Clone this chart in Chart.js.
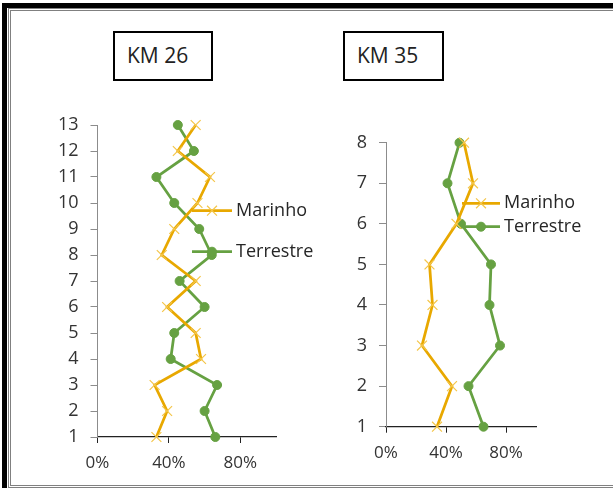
<!DOCTYPE html>
<html>
<head>
<meta charset="utf-8">
<script src="https://cdn.jsdelivr.net/npm/chart.js@4.4.0/dist/chart.umd.min.js"></script>
<style>
  html, body { margin: 0; padding: 0; background: #fff; overflow: hidden; }
  body { width: 613px; height: 488px; position: relative; font-family: "Open Sans", sans-serif; }
  .outer { position: absolute; left: 2px; top: 3px; width: 700px; height: 520px;
           border-left: 5px solid #000; border-top: 5px solid #000; box-sizing: border-box; }
  .inner { position: absolute; left: 8px; top: 8px; width: 700px; height: 480px;
           border: 3px double #808080; box-sizing: border-box; }
  .tag { position: absolute; height: 50px; border: 2px solid #000; box-sizing: border-box;
         font-size: 21px; color: #222; line-height: 44px; padding-left: 12px; background: #fff; }
  canvas { position: absolute; }
</style>
</head>
<body>
<div class="outer"></div>
<div class="inner"></div>
<div class="tag" style="left:113px; top:31px; width:100px;">KM 26</div>
<div class="tag" style="left:343px; top:31px; width:101px;">KM 35</div>
<div style="position:absolute; left:20px; top:100px; width:310px; height:385px;"><canvas id="km26"></canvas></div>
<div style="position:absolute; left:330px; top:100px; width:270px; height:385px;"><canvas id="km35"></canvas></div>

<script>
// Depth levels (vertical axis) and share of each source at each level
const depthsKm26 = [1, 2, 3, 4, 5, 6, 7, 8, 9, 10, 11, 12, 13];
const marinhoKm26 = [0.33, 0.39, 0.32, 0.58, 0.55, 0.39, 0.55, 0.36, 0.43, 0.56, 0.63, 0.45, 0.55];
const terrestreKm26 = [0.66, 0.60, 0.67, 0.41, 0.43, 0.60, 0.46, 0.64, 0.57, 0.43, 0.33, 0.54, 0.45];

const depthsKm35 = [1, 2, 3, 4, 5, 6, 7, 8];
const marinhoKm35 = [0.34, 0.44, 0.24, 0.31, 0.29, 0.47, 0.58, 0.52];
const terrestreKm35 = [0.65, 0.55, 0.76, 0.69, 0.70, 0.50, 0.41, 0.49];

const seriesNames = ['Marinho', 'Terrestre'];
const xTickValues = [0, 0.4, 0.8];

const ORANGE = '#E8A800';
const ORANGE_MARK = '#F4C64A';
const GREEN = '#66A142';
const FONT = '"Open Sans", sans-serif';

// Legend drawn inside the plot, next to the lines
const inlineLegend = {
  id: 'inlineLegend',
  afterDatasetsDraw(chart, args, opts) {
    const ctx = chart.ctx;
    ctx.save();
    chart.data.datasets.forEach((ds, i) => {
      const y = opts.top + i * opts.rowGap;
      const x0 = opts.left;
      const x1 = x0 + opts.lineLen;
      ctx.strokeStyle = ds.borderColor;
      ctx.lineWidth = ds.borderWidth;
      ctx.beginPath();
      ctx.moveTo(x0, y);
      ctx.lineTo(x1, y);
      ctx.stroke();
      ctx.lineWidth = ds.pointBorderWidth;
      ctx.strokeStyle = ds.pointBorderColor;
      ctx.fillStyle = ds.pointBackgroundColor;
      Chart.helpers.drawPoint(ctx, {
        pointStyle: ds.pointStyle, radius: ds.pointRadius, rotation: 0, borderWidth: ds.pointBorderWidth
      }, (x0 + x1) / 2, y);
      ctx.fillStyle = '#262626';
      ctx.font = '18px ' + FONT;
      ctx.textAlign = 'left';
      ctx.textBaseline = 'middle';
      ctx.fillText(ds.label, x1 + 4, y);
    });
    ctx.restore();
  }
};

function makeChart(id, depths, marinho, terrestre, lay) {
  const yTickValues = depths.slice();
  const toPoints = vals => vals.map((v, i) => ({ x: v, y: depths[i] }));
  return new Chart(document.getElementById(id), {
    type: 'line',
    data: {
      datasets: [
        {
          label: seriesNames[0],
          data: toPoints(marinho),
          borderColor: ORANGE,
          borderWidth: 2.75,
          pointStyle: 'crossRot',
          pointRadius: 7,
          pointBorderColor: ORANGE_MARK,
          pointBackgroundColor: ORANGE_MARK,
          pointBorderWidth: 1.2,
          tension: 0
        },
        {
          label: seriesNames[1],
          data: toPoints(terrestre),
          borderColor: GREEN,
          borderWidth: 2.75,
          pointStyle: 'circle',
          pointRadius: 4.5,
          pointBorderColor: GREEN,
          pointBackgroundColor: GREEN,
          pointBorderWidth: 1,
          tension: 0
        }
      ]
    },
    options: {
      responsive: true,
      maintainAspectRatio: false,
      animation: false,
      clip: false,
      layout: { padding: lay.padding },
      plugins: {
        legend: { display: false },
        tooltip: { enabled: false },
        inlineLegend: lay.legend
      },
      scales: {
        x: {
          type: 'linear',
          min: 0,
          max: 1,
          afterBuildTicks: s => { s.ticks = xTickValues.map(v => ({ value: v })); },
          afterFit: s => { s.height = lay.xHeight; },
          grid: { drawOnChartArea: false, tickLength: 6, color: '#222', lineWidth: 1 },
          border: { color: '#222', width: 1.3 },
          ticks: {
            padding: 10,
            color: '#333',
            font: { family: FONT, size: 17 },
            callback: v => Math.round(v * 100) + '%'
          }
        },
        y: {
          type: 'linear',
          min: depths[0],
          max: depths[depths.length - 1],
          afterBuildTicks: s => { s.ticks = yTickValues.map(v => ({ value: v })); },
          afterFit: s => { s.width = lay.yWidth; },
          grid: { drawOnChartArea: false, tickLength: 7, color: '#8c8c8c', lineWidth: 1 },
          border: { color: '#8c8c8c', width: 1 },
          ticks: {
            padding: 12,
            color: '#333',
            font: { family: FONT, size: 18 }
          }
        }
      }
    },
    plugins: [inlineLegend]
  });
}

makeChart('km26', depthsKm26, marinhoKm26, terrestreKm26, {
  padding: { left: 0, top: 25, right: 54, bottom: 0 },
  yWidth: 77.5,
  xHeight: 48,
  legend: { left: 172, top: 110.7, rowGap: 41, lineLen: 40 }
});

makeChart('km35', depthsKm35, marinhoKm35, terrestreKm35, {
  padding: { left: 0, top: 42.7, right: 64, bottom: 10.3 },
  yWidth: 56,
  xHeight: 48,
  legend: { left: 132, top: 103.3, rowGap: 23.4, lineLen: 38 }
});
</script>
</body>
</html>
